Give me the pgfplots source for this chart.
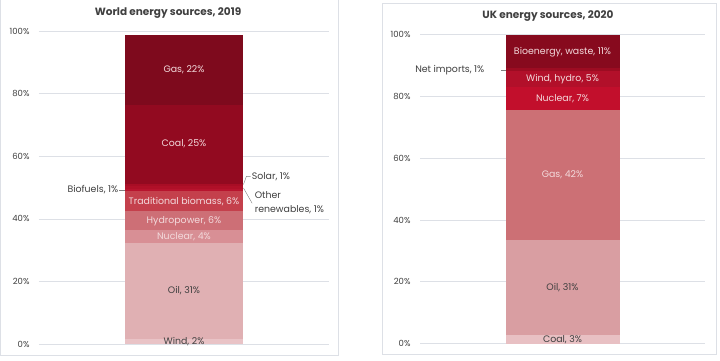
\documentclass[border=0pt]{standalone}
\usepackage{pgfplots}
\pgfplotsset{compat=1.18}
\usepackage{fontspec}
\setmainfont{Poppins}
\definecolor{wWind}{HTML}{E9C3C6}
\definecolor{wOil}{HTML}{E0B0B3}
\definecolor{wNuc}{HTML}{D88F95}
\definecolor{wHyd}{HTML}{CD6F76}
\definecolor{wTrad}{HTML}{C4404C}
\definecolor{wBio}{HTML}{B8142E}
\definecolor{wOth}{HTML}{B01028}
\definecolor{wSol}{HTML}{A80D25}
\definecolor{wCoal}{HTML}{920A20}
\definecolor{wGas}{HTML}{7E0A1D}
\definecolor{uCoal}{HTML}{E8C0C3}
\definecolor{uOil}{HTML}{D99EA2}
\definecolor{uGas}{HTML}{CC7075}
\definecolor{uNuc}{HTML}{C20F2C}
\definecolor{uWind}{HTML}{B2102A}
\definecolor{uNet}{HTML}{9C0C22}
\definecolor{uBio}{HTML}{870A1E}
\definecolor{txt}{HTML}{404040}
\definecolor{lbl}{HTML}{F3DADC}
\definecolor{gridc}{HTML}{DDE0E6}
\tikzset{
  mySeg/.style={font=\fontsize{9.4}{11}\selectfont, text=lbl},
  mySegD/.style={font=\fontsize{9.4}{11}\selectfont, text=txt},
  mySide/.style={font=\fontsize{9.4}{14}\selectfont, text=txt},
}
\pgfplotsset{
  panel/.style={
    scale only axis, anchor=south west,
    xmin=-1, xmax=1, ymin=0, ymax=100,
    ybar stacked, clip=false,
    axis line style={draw=none}, major tick length=0pt,
    xtick=\empty,
    ytick={0,20,40,60,80,100},
    yticklabels={0\%,20\%,40\%,60\%,80\%,100\%},
    yticklabel style={font=\fontsize{8.5}{10}\selectfont, text=txt, xshift=-6pt},
    ymajorgrids, grid style={gridc, line width=0.8pt},
    every axis plot/.append style={draw=none},
  },
}
\begin{document}
\begin{tikzpicture}
\useasboundingbox (0pt,0pt) rectangle (720pt,360pt);
\fill[white] (0pt,0pt) rectangle (720pt,360pt);
\draw[gridc,line width=0.8pt] (0.5pt,5pt) rectangle (338pt,365pt);
\draw[gridc,line width=0.8pt] (382pt,6pt) rectangle (716pt,357pt);
\begin{axis}[panel, at={(39pt,16pt)}, width=290pt, height=312.7pt, bar width=118pt]
\addplot[fill=wWind] coordinates {(0,1.6)};
\addplot[fill=wOil] coordinates {(0,30.8)};
\addplot[fill=wNuc] coordinates {(0,4.0)};
\addplot[fill=wHyd] coordinates {(0,6.2)};
\addplot[fill=wTrad] coordinates {(0,6.2)};
\addplot[fill=wBio] coordinates {(0,0.8)};
\addplot[fill=wOth] coordinates {(0,0.8)};
\addplot[fill=wSol] coordinates {(0,0.9)};
\addplot[fill=wCoal] coordinates {(0,25.2)};
\addplot[fill=wGas] coordinates {(0,22.2)};
\coordinate (wGasL) at (axis cs:0,87.6);
\coordinate (wCoalL) at (axis cs:0,63.9);
\coordinate (wTradL) at (axis cs:0,45.6);
\coordinate (wHydL) at (axis cs:0,39.3);
\coordinate (wNucL) at (axis cs:0,34.4);
\coordinate (wOilL) at (axis cs:0,17.0);
\coordinate (wWindL) at (axis cs:0,0.7);
\coordinate (wBioA) at (axis cs:-0.445,49.3);
\coordinate (wBioB) at (axis cs:-0.41,49.3);
\coordinate (wSolA) at (axis cs:0.41,51.0);
\coordinate (wSolB) at (axis cs:0.43,53.6);
\coordinate (wSolC) at (axis cs:0.46,53.6);
\coordinate (wOthA) at (axis cs:0.41,49.9);
\coordinate (wOthB) at (axis cs:0.47,45.0);
\coordinate (wOthT) at (axis cs:0.48,49.0);
\end{axis}
\begin{axis}[panel, at={(420pt,16.3pt)}, width=285pt, height=309.2pt, bar width=114pt]
\addplot[fill=uCoal] coordinates {(0,2.8)};
\addplot[fill=uOil] coordinates {(0,30.9)};
\addplot[fill=uGas] coordinates {(0,41.9)};
\addplot[fill=uNuc] coordinates {(0,7.3)};
\addplot[fill=uWind] coordinates {(0,5.4)};
\addplot[fill=uNet] coordinates {(0,0.8)};
\addplot[fill=uBio] coordinates {(0,10.9)};
\coordinate (uBioL) at (axis cs:0,94.4);
\coordinate (uWindL) at (axis cs:0,85.6);
\coordinate (uNucL) at (axis cs:0,79.3);
\coordinate (uGasL) at (axis cs:0,54.7);
\coordinate (uOilL) at (axis cs:0,18.2);
\coordinate (uCoalL) at (axis cs:0,1.2);
\coordinate (uNetA) at (axis cs:-0.43,88.6);
\coordinate (uNetB) at (axis cs:-0.40,88.6);
\coordinate (uNetT) at (axis cs:-0.54,88.6);
\end{axis}
\node[font=\fontsize{10.5}{12}\selectfont\bfseries,text=txt] at (168pt,347pt) {World energy sources, 2019};
\node[font=\fontsize{10.5}{12}\selectfont\bfseries,text=txt] at (548pt,344pt) {UK energy sources, 2020};
\node[mySeg] at (wGasL) {Gas, 22\%};
\node[mySeg] at (wCoalL) {Coal, 25\%};
\node[mySeg] at (wTradL) {Traditional biomass, 6\%};
\node[mySeg] at (wHydL) {Hydropower, 6\%};
\node[mySeg] at (wNucL) {Nuclear, 4\%};
\node[mySegD] at (wOilL) {Oil, 31\%};
\node[mySegD] at (wWindL) {Wind, 2\%};
\draw[gray] (wBioA) -- (wBioB);
\node[mySide, anchor=east, inner sep=1pt] at (wBioA) {Biofuels, 1\%};
\draw[gray] (wSolA) -- (wSolB) -- (wSolC);
\node[mySide, anchor=west, inner sep=1pt] at (wSolC) {Solar, 1\%};
\draw[gray] (wOthA) -- (wOthB);
\node[mySide, anchor=north west, inner sep=1pt, align=left] at (wOthT) {Other\\renewables, 1\%};
\node[mySeg] at (uBioL) {Bioenergy, waste, 11\%};
\node[mySeg] at (uWindL) {Wind, hydro, 5\%};
\node[mySeg] at (uNucL) {Nuclear, 7\%};
\node[mySeg] at (uGasL) {Gas, 42\%};
\node[mySegD] at (uOilL) {Oil, 31\%};
\node[mySegD] at (uCoalL) {Coal, 3\%};
\draw[gray] (uNetA) -- (uNetB);
\node[mySide, anchor=east, inner sep=1pt] at (uNetT) {Net imports, 1\%};
\end{tikzpicture}
\end{document}
